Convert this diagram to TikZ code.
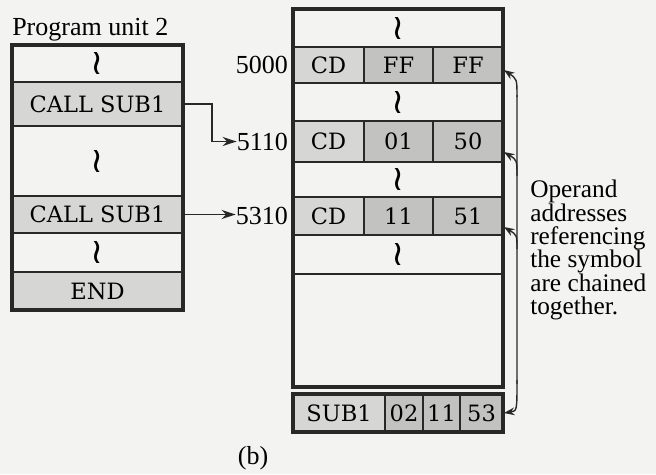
\documentclass[tikz,border=0pt]{standalone}
\usepackage{fontspec}
\setmainfont{Liberation Serif}
\newfontfamily\cellfont{DejaVu Serif}
\newfontfamily\symfont{DejaVu Sans}
\usepackage{tikz}
\usetikzlibrary{
  arrows.meta,
  positioning,
  fit,
  calc
}
\definecolor{paper}{RGB}{243,243,241}
\definecolor{cellgray}{RGB}{214,214,212}
\definecolor{datagray}{RGB}{194,194,192}
\definecolor{ink}{RGB}{40,40,40}

\newcommand{\gapsign}{{\symfont\fontsize{25}{25}\selectfont ≀}}

\tikzset{
  cell/.style={draw=ink, line width=1.2pt, inner sep=0pt, outer sep=0pt,
    label={[font=\cellfont\fontsize{16}{18}\selectfont, inner sep=0pt]center:#1}},
  cell/.default={},
  opcell/.style={cell=#1, fill=cellgray},
  datacell/.style={cell=#1, fill=datagray},
  frame/.style={draw=ink, line width=2.2pt, inner sep=0pt, outer sep=0pt},
  addr/.style={font=\fontsize{18.5}{20}\selectfont, inner sep=0pt},
  link/.style={draw=ink, line width=1.1pt, -{Stealth[length=10pt,width=6.5pt]}},
  chain/.style={draw=ink, line width=1pt, -{Stealth[length=7.5pt,width=5.5pt]}}
}

\begin{document}
\begin{tikzpicture}[x=0.025cm, y=-0.025cm]
  \useasboundingbox[fill=paper] (0,0) rectangle (656,474);

  % Program unit 2
  \node[addr, anchor=base west] (title) at (12,35) {Program unit 2};
  \node[cell=\gapsign, fit={(12,45) (183,82)}] (u1) {};
  \node[opcell=CALL SUB1, fit={(12,82) (183,126)}] (call1) {};
  \node[cell=\gapsign, fit={(12,126) (183,196)}] (u2) {};
  \node[opcell=CALL SUB1, fit={(12,196) (183,233)}] (call2) {};
  \node[cell=\gapsign, fit={(12,233) (183,272)}] (u3) {};
  \node[opcell=END, fit={(12,272) (183,310)}] (uend) {};
  \node[frame, fit=(u1)(uend)] (unit) {};

  % Memory after loading
  \node[cell=\gapsign, fit={(293,9) (503,47)}] (m0) {};
  \node[cell=\gapsign, fit={(293,83) (503,121)}] (m1) {};
  \node[cell=\gapsign, fit={(293,162) (503,197)}] (m2) {};
  \node[cell=\gapsign, fit={(293,235) (503,274)}] (m3) {};
  \node[cell, fit={(293,274) (503,387)}] (m4) {};
  \foreach \i/\ya/\yb/\lo/\hi in {0/47/83/FF/FF, 1/121/162/01/50, 2/197/235/11/51} {
    \node[opcell=CD, fit={(293,\ya) (364,\yb)}] (cd\i) {};
    \node[datacell=\lo, fit={(364,\ya) (433,\yb)}] (lo\i) {};
    \node[datacell=\hi, fit={(433,\ya) (503,\yb)}] (hi\i) {};
  }
  \node[frame, fit=(m0)(m4)] (mem) {};

  % Addresses
  \node[addr, left=0.12cm of cd0] (a5000) {5000};
  \node[addr, left=0.12cm of cd1] (a5110) {5110};
  \node[addr, left=0.12cm of cd2] (a5310) {5310};

  % Symbol table entry
  \node[opcell=SUB1, fit={(293,394) (385,432)}] (sym) {};
  \node[datacell=02, fit={(385,394) (423,432)}] (s02) {};
  \node[datacell=11, fit={(423,394) (460,432)}] (s11) {};
  \node[datacell=53, fit={(460,394) (503,432)}] (s53) {};
  \node[frame, fit=(sym)(s53)] (symtab) {};

  % Calls
  \draw[link] (call1.east) -- ++(29,0) |- (a5110.west);
  \draw[link] (call2.east) -- (call2.east -| a5310.west);

  % Chain of operand addresses
  \draw[ink, line width=1pt] ($(hi0.south east)+(14,12)$) -- ($(s53.north east)+(14,-10)$);
  \draw[chain] ($(hi0.south east)+(14,14)$) .. controls ($(hi0.south east)+(14,-4)$) .. ($(hi0.south east)+(1,-13)$);
  \draw[chain] ($(hi1.south east)+(14,14)$) .. controls ($(hi1.south east)+(14,-2)$) .. ($(hi1.south east)+(1,-10)$);
  \draw[chain] ($(hi2.south east)+(14,14)$) .. controls ($(hi2.south east)+(14,0)$) .. ($(hi2.south east)+(1,-8)$);
  \draw[chain] ($(s53.north east)+(14,-14)$) .. controls ($(s53.east)+(14,-2)$) .. ($(s53.east)+(1,0)$);

  \node[addr, anchor=north west, align=left, font=\fontsize{18}{16.6}\selectfont] (note) at (530,180)
    {Operand\\addresses\\referencing\\the symbol\\are chained\\together.};
  \node[addr, anchor=base] (caption) at (253,464) {(b)};
\end{tikzpicture}
\end{document}
